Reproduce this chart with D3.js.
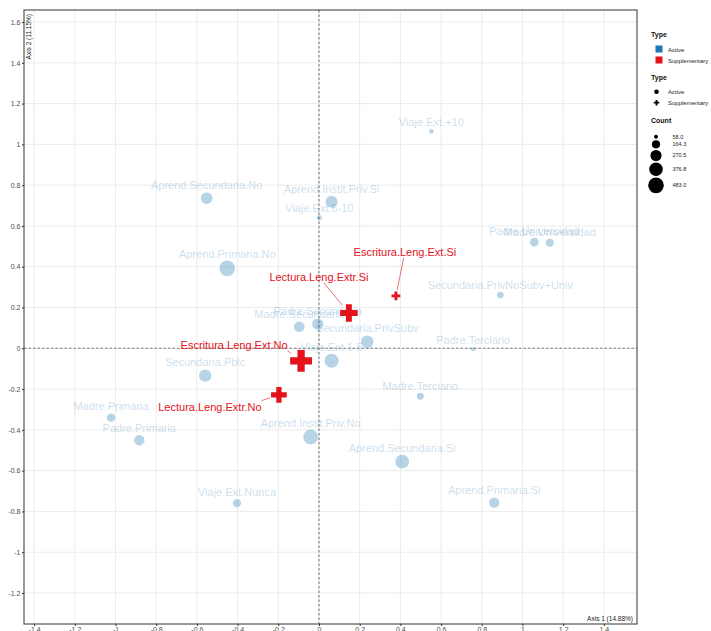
<!DOCTYPE html>
<html>
<head>
<meta charset="utf-8">
<script src="https://cdn.jsdelivr.net/npm/d3@7"></script>
<style>
  body { margin: 0; background: #fff; }
  text { font-family: "Liberation Sans", Arial, sans-serif; }
</style>
</head>
<body>
<div id="chart"></div>
<script>
// active categories (blue circles)
var activeNames = ["Aprend.Secundaria.No", "Aprend.Instit.Priv.Si", "Viaje.Ext.6-10", "Viaje.Ext.+10",
  "Aprend.Primaria.No", "Padre.Universidad", "Madre.Universidad", "Secundaria.PrivNoSubv+Univ",
  "Padre.Terciario", "Madre.Secundaria", "Padre.Secundaria", "Secundaria.PrivSubv", "Viaje.Ext.1-5",
  "Secundaria.Pblc", "Madre.Terciario", "Madre.Primaria", "Padre.Primaria", "Aprend.Instit.Priv.No",
  "Aprend.Secundaria.Si", "Viaje.Ext.Nunca", "Aprend.Primaria.Si"];
var activeDim1 = [-0.552, 0.062, 0.002, 0.552, -0.451, 1.058, 1.134, 0.891, 0.758, -0.097, -0.006,
  0.237, 0.062, -0.559, 0.498, -1.022, -0.883, -0.041, 0.409, -0.403, 0.861];
var activeDim2 = [0.736, 0.719, 0.640, 1.064, 0.392, 0.521, 0.518, 0.261, -0.005, 0.106, 0.119,
  0.032, -0.061, -0.134, -0.235, -0.340, -0.451, -0.435, -0.556, -0.759, -0.757];
var activeCount = [290, 307, 78, 70, 483, 180, 158, 118, 58, 250, 273, 333, 410, 325, 128, 170,
  240, 440, 390, 168, 241];

// supplementary categories (red crosses)
var suppNames = ["Escritura.Leng.Ext.Si", "Lectura.Leng.Extr.Si", "Escritura.Leng.Ext.No", "Lectura.Leng.Extr.No"];
var suppDim1 = [0.378, 0.147, -0.088, -0.197];
var suppDim2 = [0.257, 0.173, -0.062, -0.228];
var suppCount = [110, 330, 483, 275];

var xTicks = [-1.4, -1.2, -1, -0.8, -0.6, -0.4, -0.2, 0, 0.2, 0.4, 0.6, 0.8, 1, 1.2, 1.4];
var yTicks = [-1.2, -1, -0.8, -0.6, -0.4, -0.2, 0, 0.2, 0.4, 0.6, 0.8, 1, 1.2, 1.4, 1.6];
var countBreaks = [58.0, 164.3, 270.5, 376.8, 483.0];
var xLimits = [-1.4496, 1.5627], yLimits = [-1.352, 1.659];

var width = 711, height = 631;
var panel = {left: 24, top: 10, right: 637, bottom: 624};
var blue = "#1f78b4", red = "#e3121b";
// where the repelled red labels sit, relative to their point (px)
var suppLabelShift = [[9, -44], [-30, -36], [-67, -16], [-69, 12]];

var svg = d3.select("#chart").append("svg")
  .attr("width", width)
  .attr("height", height);

var x = d3.scaleLinear().domain(xLimits).range([panel.left, panel.right]);
var y = d3.scaleLinear().domain(yLimits).range([panel.bottom, panel.top]);
var r = d3.scaleSqrt().domain([58, 483]).range([2, 7.8]);
var fmt = function(d) { return String(+d.toFixed(1)); };

// grid
svg.append("g").selectAll("line").data(xTicks).enter().append("line")
  .attr("x1", d => x(d)).attr("x2", d => x(d))
  .attr("y1", panel.top).attr("y2", panel.bottom)
  .attr("stroke", "#ebebeb").attr("stroke-width", 1);
svg.append("g").selectAll("line").data(yTicks).enter().append("line")
  .attr("y1", d => y(d)).attr("y2", d => y(d))
  .attr("x1", panel.left).attr("x2", panel.right)
  .attr("stroke", "#ebebeb").attr("stroke-width", 1);

// zero lines
svg.append("line")
  .attr("x1", x(0)).attr("x2", x(0)).attr("y1", panel.top).attr("y2", panel.bottom)
  .attr("stroke", "#7a7a7a").attr("stroke-width", 1.1).attr("stroke-dasharray", "2.5,2");
svg.append("line")
  .attr("y1", y(0)).attr("y2", y(0)).attr("x1", panel.left).attr("x2", panel.right)
  .attr("stroke", "#7a7a7a").attr("stroke-width", 1.1).attr("stroke-dasharray", "2.5,2");

// active points + labels
var active = activeNames.map(function(n, i) {
  return {name: n, x: activeDim1[i], y: activeDim2[i], count: activeCount[i]};
});
svg.append("g").selectAll("circle").data(active).enter().append("circle")
  .attr("cx", d => x(d.x))
  .attr("cy", d => y(d.y))
  .attr("r", d => r(d.count))
  .attr("fill", blue)
  .attr("fill-opacity", 0.32);
svg.append("g").selectAll("text").data(active).enter().append("text")
  .attr("x", d => x(d.x))
  .attr("y", d => y(d.y) - r(d.count) - 3)
  .attr("text-anchor", "middle")
  .attr("font-size", "11px")
  .attr("fill", blue)
  .attr("fill-opacity", 0.25)
  .text(d => d.name);

// supplementary points, segments + labels
var supp = suppNames.map(function(n, i) {
  var px = x(suppDim1[i]), py = y(suppDim2[i]);
  return {name: n, count: suppCount[i], px: px, py: py,
          lx: px + suppLabelShift[i][0], ly: py + suppLabelShift[i][1]};
});
function crossSpan(c) { return 2.8 * r(c); }

var labels = svg.append("g").selectAll("text").data(supp).enter().append("text")
  .attr("x", d => d.lx)
  .attr("y", d => d.ly)
  .attr("dy", "0.35em")
  .attr("text-anchor", "middle")
  .attr("font-size", "11px")
  .attr("fill", red)
  .text(d => d.name);

labels.each(function(d) {
  var b = this.getBBox();
  var x0 = b.x, x1 = b.x + b.width, y0 = b.y, y1 = b.y + b.height;
  var sx, sy;
  if (d.px >= x0 && d.px <= x1) {
    // line from label centre towards the point, cut at the box edge
    sy = d.py > d.ly ? y1 : y0;
    sx = d.lx + (d.px - d.lx) * (sy - d.ly) / (d.py - d.ly);
  } else {
    sx = Math.max(x0, Math.min(x1, d.px));
    sy = Math.max(y0, Math.min(y1, d.py));
  }
  var dx = d.px - sx, dy = d.py - sy, len = Math.sqrt(dx * dx + dy * dy);
  var pad = crossSpan(d.count) / 2 + 1.5;
  svg.insert("line", "g:last-of-type")
    .attr("x1", sx).attr("y1", sy)
    .attr("x2", d.px - dx / len * pad).attr("y2", d.py - dy / len * pad)
    .attr("stroke", red).attr("stroke-width", 0.6);
});

svg.append("g").selectAll("path").data(supp).enter().append("path")
  .attr("transform", d => "translate(" + d.px + "," + d.py + ")")
  .attr("d", d => d3.symbol().type(d3.symbolCross).size(5 * Math.pow(crossSpan(d.count) / 3, 2))())
  .attr("fill", red);

// bring red labels above the crosses' neighbours
labels.raise();

// panel border
svg.append("rect")
  .attr("x", panel.left).attr("y", panel.top)
  .attr("width", panel.right - panel.left).attr("height", panel.bottom - panel.top)
  .attr("fill", "none").attr("stroke", "#333").attr("stroke-width", 1);

// axes
var xAxis = svg.append("g")
  .attr("transform", "translate(0," + panel.bottom + ")")
  .call(d3.axisBottom(x).tickValues(xTicks).tickSize(2).tickPadding(1).tickFormat(fmt));
var yAxis = svg.append("g")
  .attr("transform", "translate(" + panel.left + ",0)")
  .call(d3.axisLeft(y).tickValues(yTicks).tickSize(2).tickPadding(1.5).tickFormat(fmt));
[xAxis, yAxis].forEach(function(a) {
  a.select(".domain").remove();
  a.selectAll("line").attr("stroke", "#333");
  a.selectAll("text").attr("font-size", "7px").attr("fill", "#4d4d4d")
    .attr("font-family", "Liberation Sans, Arial, sans-serif");
});

// axis titles inside the panel
svg.append("text")
  .attr("transform", "translate(29,14) rotate(-90)")
  .attr("dy", "0.35em")
  .attr("text-anchor", "end")
  .attr("font-size", "6.5px")
  .attr("fill", "#222")
  .text("Axis 2 (11.15%)");
svg.append("text")
  .attr("x", 633).attr("y", 621)
  .attr("text-anchor", "end")
  .attr("font-size", "6.5px")
  .attr("fill", "#222")
  .text("Axis 1 (14.88%)");

// legend
var lg = svg.append("g");
function title(t, yy) {
  lg.append("text").attr("x", 651).attr("y", yy).attr("font-size", "7px")
    .attr("font-weight", "bold").attr("fill", "#111").text(t);
}
function item(t, yy) {
  lg.append("text").attr("x", 668).attr("y", yy).attr("dy", "0.35em")
    .attr("font-size", "6px").attr("fill", "#222").text(t);
}
title("Type", 37);
lg.append("rect").attr("x", 655.5).attr("y", 45.5).attr("width", 7).attr("height", 7).attr("fill", blue);
item("Active", 49.5);
lg.append("rect").attr("x", 655.5).attr("y", 56.5).attr("width", 7).attr("height", 7).attr("fill", red);
item("Supplementary", 60.5);

title("Type", 80);
lg.append("circle").attr("cx", 656.5).attr("cy", 91.7).attr("r", 2.3).attr("fill", "#000");
item("Active", 91.7);
lg.append("path").attr("transform", "translate(656.5,102.7)")
  .attr("d", d3.symbol().type(d3.symbolCross).size(17)()).attr("fill", "#000");
item("Supplementary", 102.7);

title("Count", 123);
var cy = 136.7, prev = null;
countBreaks.forEach(function(c) {
  if (prev !== null) cy += r(prev) + r(c) + 1.5;
  lg.append("circle").attr("cx", 656).attr("cy", cy).attr("r", r(c)).attr("fill", "#000");
  lg.append("text").attr("x", 672.5).attr("y", cy).attr("dy", "0.35em")
    .attr("font-size", "5.5px").attr("fill", "#222").text(d3.format(".1f")(c));
  prev = c;
});
</script>
</body>
</html>
